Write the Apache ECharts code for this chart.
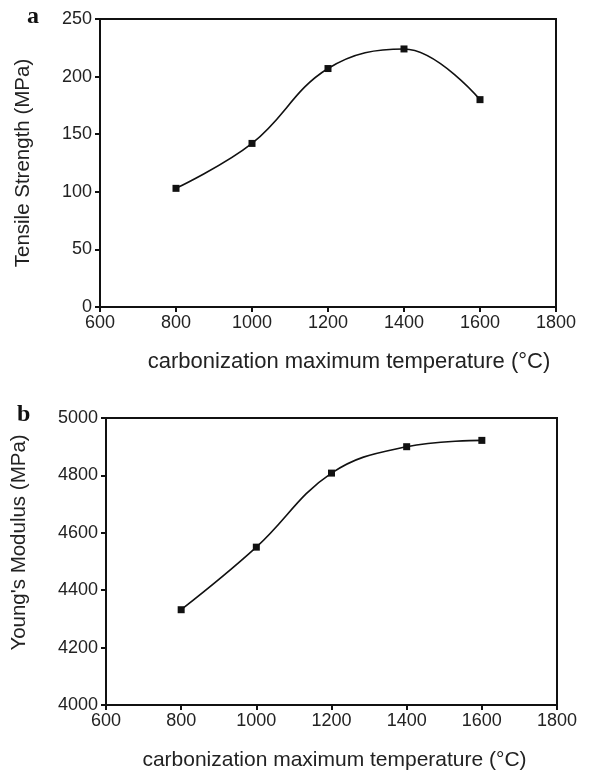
<!DOCTYPE html>
<html><head><meta charset="utf-8">
<script src="https://cdn.jsdelivr.net/npm/echarts@6/dist/echarts.min.js"></script>
<style>html,body{margin:0;padding:0;background:#fff}#c{width:614px;height:777px}</style>
</head><body><div id="c"></div>
<script>
const temps = [800, 1000, 1200, 1400, 1600];
const tensileStrength = [103, 142, 207, 224, 180];
const youngsModulus = [4332, 4550, 4808, 4900, 4922];
const xTicks = [600, 800, 1000, 1200, 1400, 1600, 1800];
const xTitle = 'carbonization maximum temperature (°C)';
const yTitleA = 'Tensile Strength (MPa)';
const yTitleB = "Young's Modulus (MPa)";

const font = 'Liberation Sans, Arial, sans-serif';
const axisCommon = {
  axisLine: {show: true, lineStyle: {color: '#111', width: 2}},
  axisTick: {show: true, inside: false, length: 5, lineStyle: {color: '#111', width: 2}},
  splitLine: {show: false},
  axisLabel: {color: '#222', fontFamily: font, fontSize: 18, formatter: v => String(v)},
  nameLocation: 'middle'
};
function xAx(i, gap, size, pad){
  return Object.assign({}, axisCommon, {type: 'value', gridIndex: i, min: xTicks[0], max: xTicks[xTicks.length-1], interval: 200,
    name: xTitle, nameGap: gap, nameTextStyle: {color: '#222', fontFamily: font, fontSize: size, padding: pad},
    axisLabel: Object.assign({}, axisCommon.axisLabel, {margin: 7})});
}
const chart = echarts.init(document.getElementById('c'));
chart.setOption({
  animation: false,
  backgroundColor: '#fff',
  title: [
    {text: 'a', left: 22, top: 0, textStyle: {fontFamily: 'Liberation Serif, serif', fontWeight: 'bold', fontSize: 24, color: '#111'}},
    {text: 'b', left: 12, top: 398, textStyle: {fontFamily: 'Liberation Serif, serif', fontWeight: 'bold', fontSize: 24, color: '#111'}}
  ],
  grid: [
    {left: 100, top: 19, width: 456, height: 288, show: true, borderColor: '#111', borderWidth: 2, backgroundColor: '#fff'},
    {left: 106, top: 418, width: 451, height: 287, show: true, borderColor: '#111', borderWidth: 2, backgroundColor: '#fff'}
  ],
  xAxis: [xAx(0, 44, 22, [0, 0, 0, 42]), xAx(1, 45, 21, [0, 0, 0, 6])],
  yAxis: [
    Object.assign({}, axisCommon, {type: 'value', gridIndex: 0, min: 0, max: 250, interval: 50, name: yTitleA, nameGap: 66,
      nameTextStyle: {color: '#222', fontFamily: font, fontSize: 20.5, padding: [0, 0, 0, 0]}}),
    Object.assign({}, axisCommon, {type: 'value', gridIndex: 1, min: 4000, max: 5000, interval: 200, name: yTitleB, nameGap: 76,
      nameTextStyle: {color: '#222', fontFamily: font, fontSize: 20.5, padding: [0, 0, 0, 38]}})
  ],
  series: [
    {type: 'line', xAxisIndex: 0, yAxisIndex: 0, data: temps.map((t, i) => [t, tensileStrength[i]]),
     smooth: 0.4, symbol: 'rect', symbolSize: 7, lineStyle: {color: '#111', width: 1.6}, itemStyle: {color: '#111'}},
    {type: 'line', xAxisIndex: 1, yAxisIndex: 1, data: temps.map((t, i) => [t, youngsModulus[i]]),
     smooth: 0.4, symbol: 'rect', symbolSize: 7, lineStyle: {color: '#111', width: 1.6}, itemStyle: {color: '#111'}}
  ]
});
</script></body></html>
